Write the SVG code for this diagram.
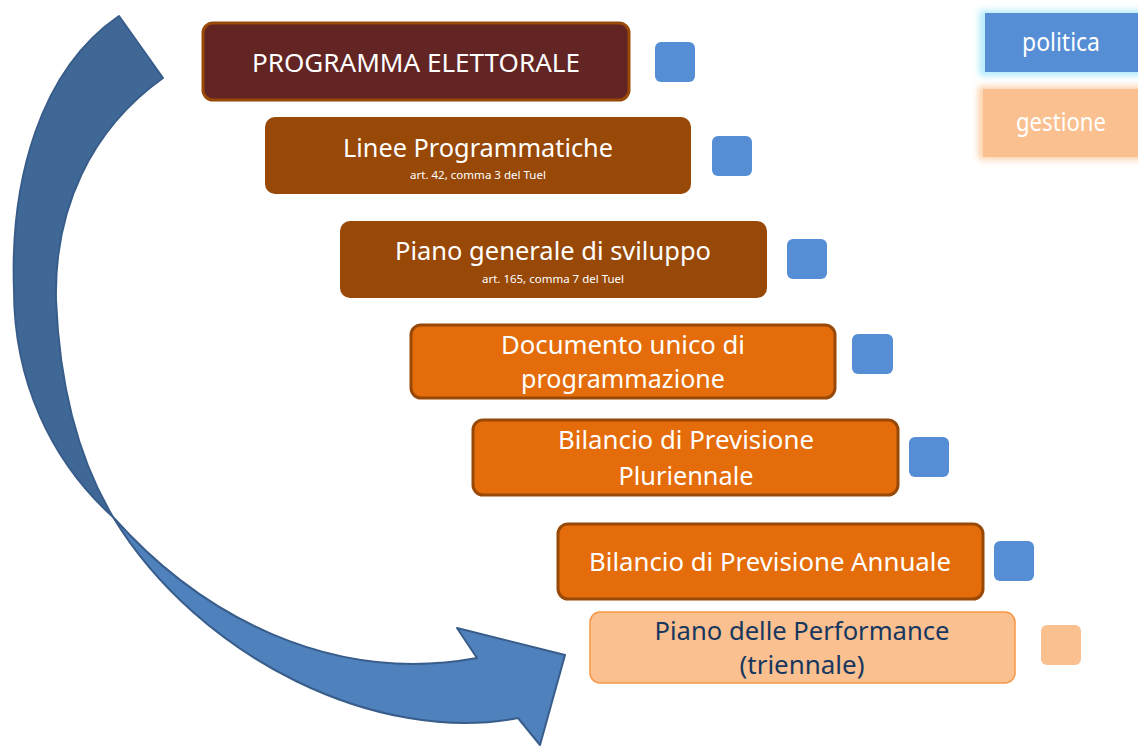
<svg xmlns="http://www.w3.org/2000/svg" width="1138" height="747" viewBox="0 0 1138 747">
<style>
.t{font-family:"Noto Sans","Open Sans",sans-serif;font-size:26px;fill:#fff;text-anchor:middle}
.s{font-family:"Noto Sans","Open Sans",sans-serif;font-size:11px;fill:#fff;text-anchor:middle}
.d{fill:#17375E}
.b1{fill:#632523;stroke:#984807;stroke-width:3}
.b2{fill:#984807}
.b3{fill:#E46C0A;stroke:#984807;stroke-width:3}
.b4{fill:#FAC090;stroke:#F79646;stroke-width:1.5}
.sq{fill:#558ED5}
.sq2{fill:#FAC090}
</style>
<defs>
<filter id="glow" x="-20%" y="-30%" width="140%" height="160%">
<feGaussianBlur stdDeviation="3"/>
</filter>
</defs>
<g id="arrow" stroke="#385D8A" stroke-width="2" stroke-linejoin="round">
<path fill="#4F81BD" d="M113,517 C200,615 330,685 477,658 L457,628 L565,655 L540,745 L518,718 C380,745 200,660 113,517 Z"/>
<path fill="#3F6896" d="M119,16 C40,70 10,180 14,290 C14,380 50,460 113,517 C85,470 60,400 56,300 C54,210 90,130 163,78 Z"/>
</g>
<g id="legend-politica">
<rect x="979" y="10" width="170" height="66" rx="4" fill="#B5ECFA" filter="url(#glow)"/>
<rect x="985" y="13" width="160" height="59" fill="#558ED5"/>
<text class="t" x="1061" y="51" font-size="22" textLength="78" lengthAdjust="spacingAndGlyphs">politica</text>
</g>
<g id="legend-gestione">
<rect x="978" y="86" width="170" height="74" rx="4" fill="#FCD3AE" filter="url(#glow)"/>
<rect x="983" y="89" width="160" height="68" fill="#FAC090"/>
<text class="t" x="1061" y="131" font-size="22" textLength="90" lengthAdjust="spacingAndGlyphs">gestione</text>
</g>
<g id="n1">
<rect class="b1" x="203" y="23" width="426" height="77" rx="10"/>
<text class="t" x="416" y="72" textLength="328" lengthAdjust="spacingAndGlyphs">PROGRAMMA ELETTORALE</text>
<rect class="sq" x="655" y="42" width="40" height="40" rx="6"/>
</g>
<g id="n2">
<rect class="b2" x="265" y="117" width="426" height="77" rx="10"/>
<text class="t" x="478" y="157" textLength="270" lengthAdjust="spacingAndGlyphs">Linee Programmatiche</text>
<text class="s" x="478" y="179" textLength="136" lengthAdjust="spacingAndGlyphs">art. 42, comma 3 del Tuel</text>
<rect class="sq" x="712" y="136" width="40" height="40" rx="6"/>
</g>
<g id="n3">
<rect class="b2" x="340" y="221" width="427" height="77" rx="10"/>
<text class="t" x="553" y="260" textLength="316" lengthAdjust="spacingAndGlyphs">Piano generale di sviluppo</text>
<text class="s" x="553" y="283" textLength="142" lengthAdjust="spacingAndGlyphs">art. 165, comma 7 del Tuel</text>
<rect class="sq" x="787" y="239" width="40" height="40" rx="6"/>
</g>
<g id="n4">
<rect class="b3" x="411" y="325" width="424" height="73" rx="10"/>
<text class="t" x="623" y="354" textLength="244" lengthAdjust="spacingAndGlyphs">Documento unico di</text>
<text class="t" x="623" y="388" textLength="204" lengthAdjust="spacingAndGlyphs">programmazione</text>
<rect class="sq" x="852" y="334" width="41" height="40" rx="6"/>
</g>
<g id="n5">
<rect class="b3" x="473" y="420" width="425" height="75" rx="10"/>
<text class="t" x="686" y="449" textLength="256" lengthAdjust="spacingAndGlyphs">Bilancio di Previsione</text>
<text class="t" x="686" y="485" textLength="135" lengthAdjust="spacingAndGlyphs">Pluriennale</text>
<rect class="sq" x="909" y="437" width="40" height="40" rx="6"/>
</g>
<g id="n6">
<rect class="b3" x="558" y="524" width="425" height="75" rx="10"/>
<text class="t" x="770" y="571" textLength="362" lengthAdjust="spacingAndGlyphs">Bilancio di Previsione Annuale</text>
<rect class="sq" x="994" y="541" width="40" height="40" rx="6"/>
</g>
<g id="n7">
<rect class="b4" x="590" y="612" width="425" height="71" rx="10"/>
<text class="t d" x="802" y="640" textLength="295" lengthAdjust="spacingAndGlyphs">Piano delle Performance</text>
<text class="t d" x="802" y="674" textLength="125" lengthAdjust="spacingAndGlyphs">(triennale)</text>
<rect class="sq2" x="1041" y="625" width="40" height="40" rx="6"/>
</g>
</svg>
